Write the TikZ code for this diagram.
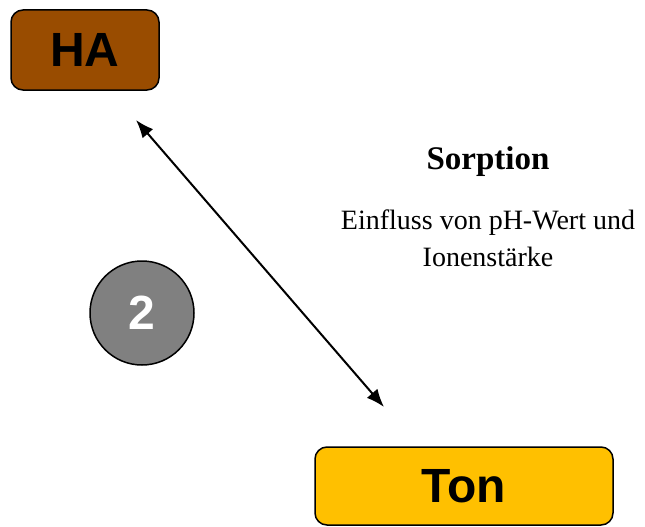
\documentclass[tikz,border=0pt]{standalone}
\usepackage{fontspec}
\setmainfont{Liberation Serif}
\newfontfamily\boxfont{Liberation Sans}
\usetikzlibrary{arrows.meta}
\definecolor{habrown}{RGB}{153,76,0}
\definecolor{tonyellow}{RGB}{255,192,0}
\definecolor{stepgray}{RGB}{128,128,128}
\tikzset{
    matbox/.style={draw=black, line width=1.5pt, rounded corners=12pt, font=\boxfont\bfseries\fontsize{48}{48}\selectfont},
    stepcircle/.style={circle, draw=black, line width=1.5pt, fill=stepgray, text=white, font=\boxfont\bfseries\fontsize{48}{48}\selectfont}
}
\begin{document}
\begin{tikzpicture}[x=1pt, y=-1pt]
    \useasboundingbox (0,0) rectangle (645,527);

    % Draw the two materials
    \node[matbox, fill=habrown, minimum width=148pt, minimum height=80pt] (ha) at (85,50) {HA};
    \node[matbox, fill=tonyellow, minimum width=298pt, minimum height=78pt] (ton) at (464,486) {Ton};

    % Draw the step number
    \node[stepcircle, minimum size=104pt, inner sep=0pt] (step2) at (142,313) {2};

    % Draw the exchange arrow
    \coordinate (top) at (136,120);
    \coordinate (bottom) at (384,407);
    \draw[{Latex[length=18pt,width=14pt]}-{Latex[length=18pt,width=14pt]}, line width=2pt] (top) -- (bottom);

    % Label the process
    \node[font=\bfseries\fontsize{33}{38}\selectfont] (sorption) at (488,162) {Sorption};
    \node[font=\fontsize{28}{37}\selectfont, align=center] (effect) at (488,238) {Einfluss von pH-Wert und\\Ionenstärke};
\end{tikzpicture}
\end{document}
